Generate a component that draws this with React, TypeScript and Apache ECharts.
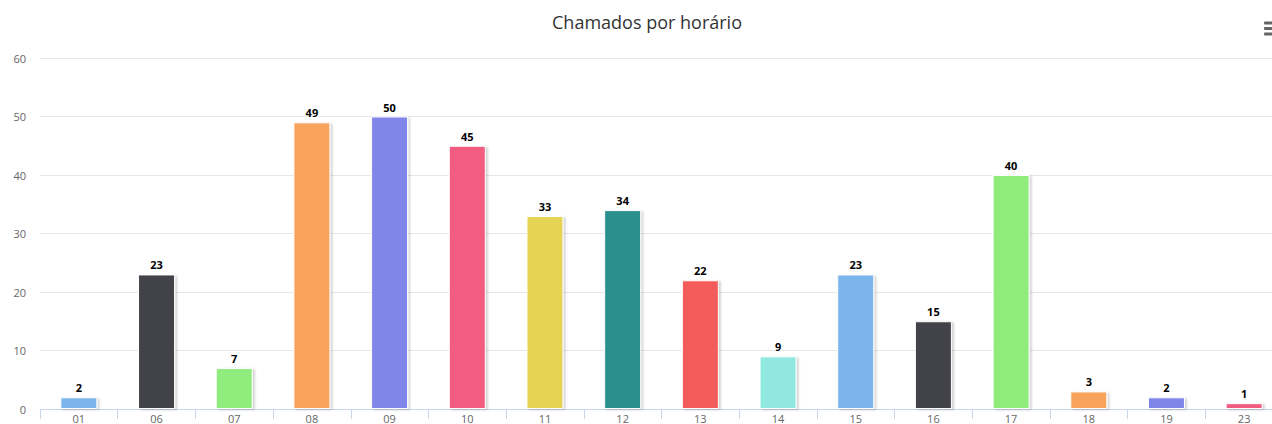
import React, { useEffect, useRef } from "react";
import * as echarts from "echarts";

// Horas do dia e quantidade de chamados abertos em cada uma
const horas = ["01", "06", "07", "08", "09", "10", "11", "12", "13", "14", "15", "16", "17", "18", "19", "23"];
const chamados = [2, 23, 7, 49, 50, 45, 33, 34, 22, 9, 23, 15, 40, 3, 2, 1];
const yTicks = [0, 10, 20, 30, 40, 50, 60];
const palette = [
  "#7cb5ec", "#434348", "#90ed7d", "#f7a35c", "#8085e9",
  "#f15c80", "#e4d354", "#2b908f", "#f45b5b", "#91e8e1",
];

const FONT = "'Open Sans', 'DejaVu Sans', sans-serif";
const CHART_W = 1294;
const CHART_H = 424;

export default function App() {
  const ref = useRef<HTMLDivElement>(null);

  useEffect(() => {
    if (!ref.current) return;
    const chart = echarts.init(ref.current, undefined, { renderer: "svg" });
    chart.setOption({
      animation: false,
      textStyle: { fontFamily: FONT },
      title: {
        text: "Chamados por horário",
        left: "center",
        top: 13,
        padding: 0,
        textStyle: { fontFamily: FONT, fontSize: 18, fontWeight: "normal", color: "#333333" },
      },
      grid: { left: 40, right: 11, top: 58, bottom: 13, containLabel: false },
      xAxis: {
        type: "category",
        data: horas,
        axisLine: { lineStyle: { color: "#ccd6eb", width: 1 } },
        axisTick: { show: true, length: 10, lineStyle: { color: "#ccd6eb" } },
        axisLabel: { color: "#666666", fontSize: 11, lineHeight: 12, margin: 3, fontFamily: FONT },
      },
      yAxis: {
        type: "value",
        min: yTicks[0],
        max: yTicks[yTicks.length - 1],
        interval: 10,
        axisLine: { show: false },
        axisTick: { show: false },
        axisLabel: { color: "#666666", fontSize: 11, margin: 14, fontFamily: FONT },
        splitLine: { lineStyle: { color: "#e6e6e6", width: 1 } },
      },
      series: [
        {
          type: "bar",
          barWidth: 37,
          data: chamados.map((v, i) => ({
            value: v,
            itemStyle: { color: palette[i % palette.length] },
          })),
          itemStyle: {
            borderColor: "#ffffff",
            borderWidth: 1,
            shadowColor: "rgba(0,0,0,0.18)",
            shadowBlur: 2,
            shadowOffsetX: 2,
            shadowOffsetY: 1,
          },
          label: {
            show: true,
            position: "top",
            distance: 4,
            color: "#000000",
            fontSize: 11,
            fontWeight: "bold",
            fontFamily: FONT,
            textBorderColor: "#ffffff",
            textBorderWidth: 2,
          },
        },
      ],
      graphic: [
        { type: "rect", shape: { x: 1264, y: 21.5, width: 12, height: 3, r: 1 }, style: { fill: "#666666" } },
        { type: "rect", shape: { x: 1264, y: 27, width: 12, height: 3, r: 1 }, style: { fill: "#666666" } },
        { type: "rect", shape: { x: 1264, y: 32.5, width: 12, height: 3, r: 1 }, style: { fill: "#666666" } },
      ],
    });
    return () => chart.dispose();
  }, []);

  return (
    <div style={{ position: "absolute", left: 0, top: 0, width: 1272, height: CHART_H, overflow: "hidden", background: "#fff" }}>
      <div ref={ref} style={{ width: CHART_W, height: CHART_H }} />
    </div>
  );
}
